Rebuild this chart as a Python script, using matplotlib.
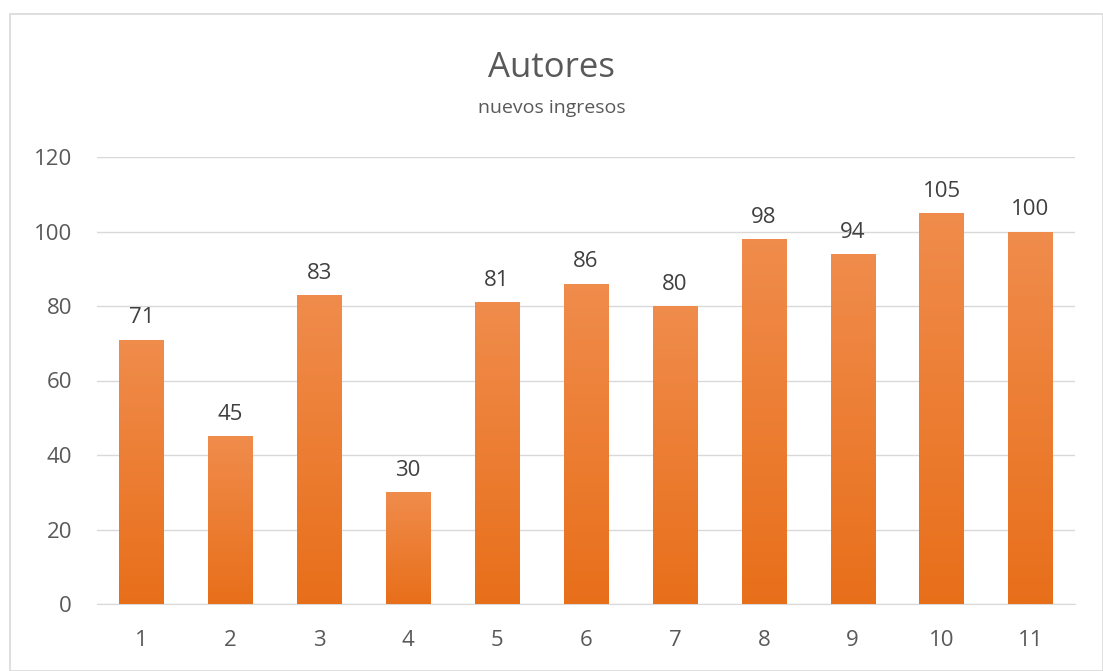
import numpy as np
import matplotlib.pyplot as plt
from matplotlib.colors import LinearSegmentedColormap
from matplotlib.patches import Rectangle

categories = ["1", "2", "3", "4", "5", "6", "7", "8", "9", "10", "11"]
values = [71, 45, 83, 30, 81, 86, 80, 98, 94, 105, 100]
yticks = [0, 20, 40, 60, 80, 100, 120]

plt.rcParams['font.family'] = ['Open Sans', 'DejaVu Sans']

fig = plt.figure(figsize=(11.03, 6.71), dpi=100)
# chart frame
fig.patches.append(Rectangle((10 / 1103, 0), 1 - 10 / 1103, 1 - 14 / 671,
                             transform=fig.transFigure, fill=False,
                             edgecolor="#d9d9d9", lw=1.2))

ax = fig.add_axes([97 / 1103, 1 - 604 / 671, (1075 - 97) / 1103, (604 - 157) / 671])

x = np.arange(len(categories))
bars = ax.bar(x, values, width=0.5, color="none", zorder=3)

grad = np.linspace(0, 1, 256).reshape(-1, 1)
cmap = LinearSegmentedColormap.from_list("og", ["#e86f1a", "#f08c4c"])
for b, v in zip(bars, values):
    x0, w = b.get_x(), b.get_width()
    im = ax.imshow(grad, cmap=cmap, aspect="auto", origin="lower",
                   extent=[x0, x0 + w, 0, v], zorder=3)
    im.set_clip_path(b)
    ax.text(x0 + w / 2, v + 3.0, str(v), ha="center", va="bottom",
            fontsize=16, color="#404040", zorder=4)

ax.set_xlim(-0.5, len(categories) - 0.5)
ax.set_ylim(0, 120)
ax.set_yticks(yticks)
ax.set_xticks(x)
ax.set_xticklabels(categories)
ax.grid(axis="y", color="#d9d9d9", lw=1, zorder=0)
ax.set_axisbelow(True)
for s in ["top", "right", "left"]:
    ax.spines[s].set_visible(False)
ax.spines["bottom"].set_color("#d9d9d9")
ax.tick_params(axis="both", length=0, labelsize=16, labelcolor="#595959")
ax.tick_params(axis="y", pad=18)
ax.tick_params(axis="x", pad=19)

fig.text(0.5, 1 - 68 / 671, "Autores", ha="center", va="center",
         fontsize=25, color="#595959")
fig.text(0.5, 1 - 108 / 671, "nuevos ingresos", ha="center", va="center",
         fontsize=14, color="#595959")

fig.savefig("out.png", dpi=100)
